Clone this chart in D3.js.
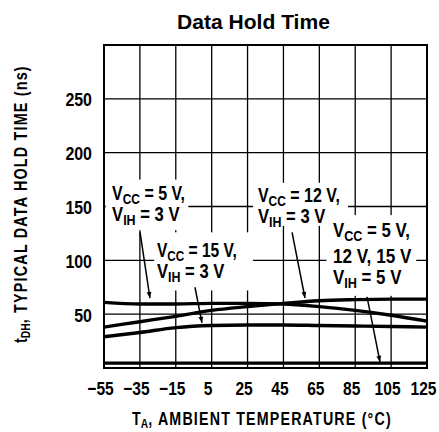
<!DOCTYPE html>
<html>
<head>
<meta charset="utf-8">
<script src="https://cdn.jsdelivr.net/npm/d3@7"></script>
<style>
  body { margin: 0; background: #fff; }
  svg text { fill: #000; font-family: "Liberation Sans", Arial, sans-serif; font-weight: bold; }
</style>
</head>
<body>
<div id="chart"></div>
<script>
// values
const temps = [-55, -35, -15, 5, 25, 45, 65, 85, 105, 125];
const vcc5Vih3 = [61, 59.5, 59.5, 60, 60, 59.5, 57, 53.5, 49, 43.5];
const vcc12Vih3 = [38, 43, 48, 53.5, 57, 60, 62.5, 63.5, 64, 64];
const vcc15Vih3 = [29, 33, 37.5, 39.5, 40, 40, 39.5, 39, 38.5, 38];
const allVih5 = [4.5, 4.5, 4.5, 4.5, 4.5, 4.5, 4.5, 4.5, 4.5, 4.5];
const xTicks = [-55, -35, -15, 5, 25, 45, 65, 85, 105, 125];
const yTicks = [50, 100, 150, 200, 250];

const width = 439, height = 432;
const mLeft = 104, mRight = 427, mTop = 45, mBottom = 368;

const svg = d3.select('#chart').append('svg')
    .attr('width', width)
    .attr('height', height);

const x = d3.scaleLinear().domain([-55, 125]).range([mLeft, mRight]);
const y = d3.scaleLinear().domain([0, 300]).range([mBottom, mTop]);

// squeeze a text horizontally so it reads like the condensed type of the original
function squeeze(text, px, py, k, extra) {
    text.attr('transform', `translate(${px},${py}) ${extra || ''} scale(${k},1)`);
}
function fitTo(text, px, py, target, extra) {
    const w = text.node().getBBox().width;
    squeeze(text, px, py, target / w, extra);
}

// grid
svg.append('g').selectAll('line').data(xTicks.slice(1, -1)).enter().append('line')
    .attr('x1', d => x(d)).attr('x2', d => x(d))
    .attr('y1', mTop).attr('y2', mBottom)
    .attr('stroke', '#000').attr('stroke-width', 1.3);
svg.append('g').selectAll('line').data(yTicks).enter().append('line')
    .attr('x1', mLeft).attr('x2', mRight)
    .attr('y1', d => y(d)).attr('y2', d => y(d))
    .attr('stroke', '#000').attr('stroke-width', 1.3);

// curves
const series = [vcc5Vih3, vcc12Vih3, vcc15Vih3, allVih5];
const line = d3.line()
    .x((d, i) => x(temps[i]))
    .y(d => y(d))
    .curve(d3.curveMonotoneX);
svg.append('g').selectAll('path').data(series).enter().append('path')
    .attr('d', line)
    .attr('fill', 'none')
    .attr('stroke', '#000')
    .attr('stroke-width', 3.4);

// frame
svg.append('rect')
    .attr('x', mLeft).attr('y', mTop)
    .attr('width', mRight - mLeft).attr('height', mBottom - mTop)
    .attr('fill', 'none').attr('stroke', '#000').attr('stroke-width', 2);

// axes
const xAxis = d3.axisBottom(x).tickValues(xTicks).tickSize(0)
    .tickFormat(d => d < 0 ? '\u2212' + Math.abs(d) : d);
const gx = svg.append('g').attr('transform', `translate(0,${mBottom})`).call(xAxis);
gx.select('.domain').remove();
gx.selectAll('text').attr('font-size', 19).attr('dy', null).attr('y', null)
    .attr('font-family', null)
    .each(function () { squeeze(d3.select(this), -4, 27, 0.82); });

const yAxis = d3.axisLeft(y).tickValues(yTicks).tickSize(0);
const gy = svg.append('g').attr('transform', `translate(${mLeft},0)`).call(yAxis);
gy.select('.domain').remove();
gy.selectAll('text').attr('font-size', 19).attr('x', null).attr('dy', '0.36em')
    .each(function () { squeeze(d3.select(this), -12, 0, 0.84); });

// titles
const title = svg.append('text')
    .attr('font-size', 20)
    .text('Data Hold Time');
fitTo(title, 177, 29, 153);

const xt = svg.append('text').attr('font-size', 18);
xt.append('tspan').text('T');
xt.append('tspan').attr('font-size', 13).attr('dy', 3).text('A');
xt.append('tspan').attr('dy', -3).attr('letter-spacing', 1.5)
    .text(', AMBIENT TEMPERATURE (\u00B0C)');
fitTo(xt, 132, 425, 260);

const yt = svg.append('text').attr('font-size', 18);
yt.append('tspan').text('t');
yt.append('tspan').attr('font-size', 13).attr('dy', 3).text('DH');
yt.append('tspan').attr('dy', -3).attr('letter-spacing', 1.5)
    .text(', TYPICAL DATA HOLD TIME (ns)');
fitTo(yt, 27, 343, 278, 'rotate(-90)');

// annotations, anchor positions in data units, line widths from the picture
const notes = [
    { t: -50.5, v: 156, box: [-54, 175, -8, 128],
      lines: [['V', 'CC', ' = 5 V,', 73], ['V', 'IH', ' = 3 V', 68]] },
    { t: -25.5, v: 103, box: [-27, 126, 28, 72],
      lines: [['V', 'CC', ' = 15 V,', 80], ['V', 'IH', ' = 3 V', 68]] },
    { t: 30.8, v: 154, box: [28, 172, 81, 132],
      lines: [['V', 'CC', ' = 12 V,', 82], ['V', 'IH', ' = 3 V', 68]] },
    { t: 72.6, v: 121.7, box: [69, 142, 119, 67],
      lines: [['V', 'CC', ' = 5 V,', 77], ['', '', '12 V,  15 V', 79], ['V', 'IH', ' = 5 V', 69]] }
];

svg.append('g').selectAll('rect').data(notes).enter().append('rect')
    .attr('x', d => x(d.box[0])).attr('y', d => y(d.box[1]))
    .attr('width', d => x(d.box[2]) - x(d.box[0]))
    .attr('height', d => y(d.box[3]) - y(d.box[1]))
    .attr('fill', '#fff');

notes.forEach(n => {
    let yy = y(n.v);
    n.lines.forEach((ln, i) => {
        if (i > 0) yy += (n.lines.length === 3 && i === 1) ? 26 : 21;
        const tx = svg.append('text').attr('font-size', 20);
        if (ln[0]) {
            tx.append('tspan').text(ln[0]);
            tx.append('tspan').attr('font-size', 15).attr('dy', 4).text(ln[1]);
            tx.append('tspan').attr('dy', -4).text(ln[2]);
        } else {
            tx.append('tspan').text(ln[2]);
        }
        fitTo(tx, x(n.t), yy, ln[3]);
    });
});

// arrows
const arrows = [
    { t1: -34.9, v1: 126, t2: -29.4, v2: 65 },
    { t1: -4.3, v1: 75, t2: -0.4, v2: 42 },
    { t1: 49.8, v1: 126, t2: 57, v2: 65 },
    { t1: 91.6, v1: 66, t2: 98.8, v2: 5.6 }
];
svg.append('defs').append('marker')
    .attr('id', 'head').attr('viewBox', '0 0 10 10')
    .attr('refX', 10).attr('refY', 5)
    .attr('markerWidth', 10).attr('markerHeight', 6)
    .attr('markerUnits', 'userSpaceOnUse')
    .attr('orient', 'auto')
    .append('path').attr('d', 'M0,1 L10,5 L0,9 Z').attr('fill', '#000');
svg.append('g').selectAll('line').data(arrows).enter().append('line')
    .attr('x1', d => x(d.t1)).attr('y1', d => y(d.v1))
    .attr('x2', d => x(d.t2)).attr('y2', d => y(d.v2))
    .attr('stroke', '#000').attr('stroke-width', 1.5)
    .attr('marker-end', 'url(#head)');
</script>
</body>
</html>
